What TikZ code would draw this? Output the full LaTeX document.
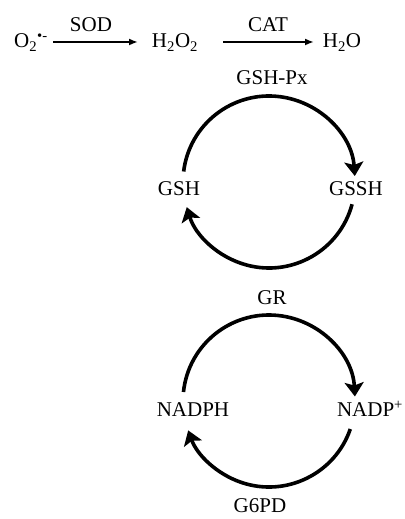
\documentclass[tikz,border=0pt]{standalone}
\usepackage{fontspec}
\setmainfont{Liberation Serif}
\usetikzlibrary{arrows.meta}
\begin{document}
\begin{tikzpicture}[x=1pt,y=1pt,
  lbl/.style={font=\fontsize{21}{25}\selectfont, inner sep=0pt, anchor=base},
  rxn/.style={line width=2pt, -{Latex[length=9pt,width=7pt]}},
  cyc/.style={line width=3.6pt, -{Stealth[length=14pt,width=19pt,inset=3pt]}}]
\useasboundingbox (0,0) rectangle (404,519);
% top reaction line
\node[lbl] (o2) at (31,471) {O\textsubscript{2}\textsuperscript{\textbullet-}};
\node[lbl] (h2o2) at (175,471) {H\textsubscript{2}O\textsubscript{2}};
\node[lbl] (h2o) at (342,471) {H\textsubscript{2}O};
\node[lbl] (sod) at (91,487) {SOD};
\node[lbl] (cat) at (268,487) {CAT};
\coordinate (a1s) at (53,477);
\coordinate (a1e) at (138,477);
\coordinate (a2s) at (223,477);
\coordinate (a2e) at (314,477);
\draw[rxn] (a1s) -- (a1e);
\draw[rxn] (a2s) -- (a2e);
% GSH cycle
\coordinate (c1) at (269,337);
\node[lbl] (gpx) at (272,434) {GSH-Px};
\node[lbl] (gsh) at (179,323) {GSH};
\node[lbl] (gssh) at (356,323) {GSSH};
\draw[cyc] ([shift={(173:86)}]c1) arc[start angle=173, end angle=4, radius=86];
\draw[cyc] ([shift={(-15:86)}]c1) arc[start angle=-15, end angle=-163, radius=86];
% NADPH cycle
\coordinate (c2) at (269,118);
\node[lbl] (gr) at (272,214) {GR};
\node[lbl] (nadph) at (193,102) {NADPH};
\node[lbl] (nadp) at (370,102) {NADP\textsuperscript{+}};
\node[lbl] (g6pd) at (260,6) {G6PD};
\draw[cyc] ([shift={(174:86)}]c2) arc[start angle=174, end angle=3, radius=86];
\draw[cyc] ([shift={(-19:86)}]c2) arc[start angle=-19, end angle=-160, radius=86];
\end{tikzpicture}
\end{document}
